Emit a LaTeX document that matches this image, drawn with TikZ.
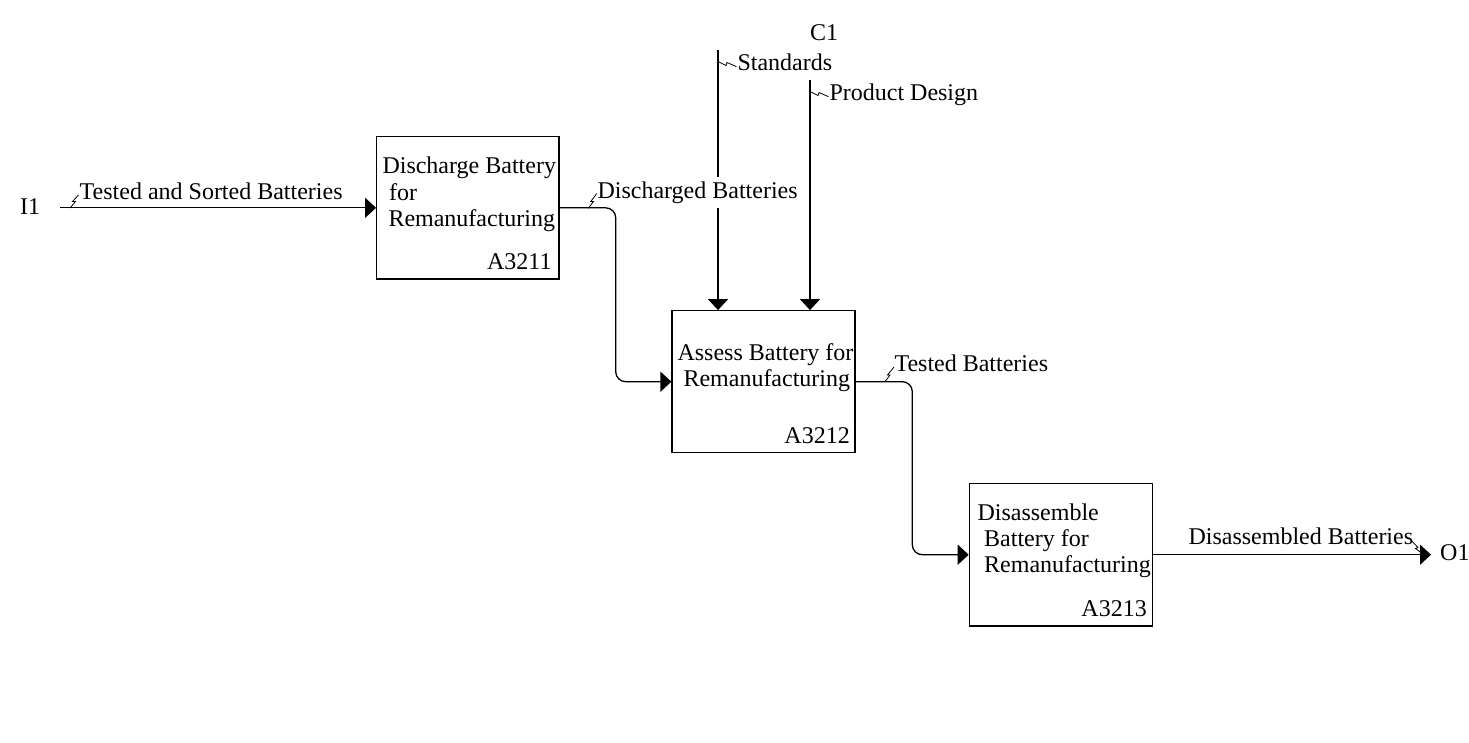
\documentclass[tikz,border=0pt]{standalone}
\usepackage{fontspec}
\setmainfont{Liberation Serif}
\usetikzlibrary{arrows.meta}
\begin{document}
\begin{tikzpicture}[x=1pt,y=-1pt,
  box/.style={draw, line width=1.2pt, inner sep=0pt},
  lbl/.style={anchor=base west, inner sep=0pt, font=\fontsize{24}{26}\selectfont},
  lblr/.style={lbl, anchor=base east},
  flow/.style={line width=1.3pt},
  conn/.style={flow, -{Triangle[length=11pt,width=20pt]}},
  sq/.style={line width=0.8pt}]
\path[use as bounding box, fill=white] (0,0) rectangle (1469,742);

% boxes
\node[box, minimum width=182.3pt, minimum height=142.3pt] (b1) at (467.8,207.8) {};
\node[box, minimum width=183pt, minimum height=142pt] (b2) at (763.5,381.7) {};
\node[box, minimum width=183.4pt, minimum height=142.7pt] (b3) at (1061,554.7) {};

% box texts
\node[lbl] (t1a) at (382.3,173.3) {Discharge Battery};
\node[lbl] (t1b) at (389,200) {for};
\node[lbl] (t1c) at (388.3,226.7) {Remanufacturing};
\node[lblr] (n1) at (551.7,269.3) {A3211};

\node[lbl] (t2a) at (677.3,360.7) {Assess Battery for};
\node[lbl] (t2b) at (683.3,386.7) {Remanufacturing};
\node[lblr] (n2) at (850,443.3) {A3212};

\node[lbl] (t3a) at (977.3,520.7) {Disassemble};
\node[lbl] (t3b) at (984,546.7) {Battery for};
\node[lbl] (t3c) at (984,572.7) {Remanufacturing};
\node[lblr] (n3) at (1147,616.7) {A3213};

% boundary labels
\node[lbl] (i1) at (20,214.5) {I1};
\node[lbl] (c1) at (810,40.7) {C1};
\node[lbl] (o1) at (1440,560) {O1};

% arrow labels
\node[lbl] (l1) at (79.5,199.3) {Tested and Sorted Batteries};
\node[lbl] (l2) at (597.3,198.3) {Discharged Batteries};
\node[lbl] (l3) at (737.3,70.7) {Standards};
\node[lbl] (l4) at (829.3,100.7) {Product Design};
\node[lbl] (l5) at (894.3,371.7) {Tested Batteries};
\node[lbl] (l6) at (1188.3,544.3) {Disassembled Batteries};

% free ends
\coordinate (sI) at (60,207.8);
\coordinate (sS) at (718,50);
\coordinate (sP) at (810,80);
\coordinate (eO) at (1431,554.7);
\coordinate (k1) at (615.7,0);
\coordinate (k2) at (912.3,0);

% connectors
\draw[conn] (sI) -- (b1.west);
\draw[conn, rounded corners=10pt] (b1.east) -| (k1 |- b2.west) -- (b2.west);
\draw[flow] (sS) -- (718,177);
\draw[conn] (718,208.3) -- (sS |- b2.north);
\draw[conn] (sP) -- (sP |- b2.north);
\draw[conn, rounded corners=10pt] (b2.east) -| (k2 |- b3.west) -- (b3.west);
\draw[conn] (b3.east) -- (eO);

% squiggles
\draw[sq] (70,208)--(75.5,201.5)--(72.5,201.5)--(78.5,195);
\draw[sq] (588.3,208.3)--(593.5,201.5)--(590.8,201.5)--(596.7,193.5);
\draw[sq] (885,381.7)--(890,375)--(887.5,375)--(894,367);
\draw[sq] (718.3,61.7)--(726,65.5)--(727,62.5)--(736.5,66.7);
\draw[sq] (810.3,91.7)--(818,95.5)--(819,92.5)--(828.5,96.7);
\draw[sq] (1411.7,541)--(1418,547.5)--(1415.5,548.5)--(1423,554);
\end{tikzpicture}
\end{document}
